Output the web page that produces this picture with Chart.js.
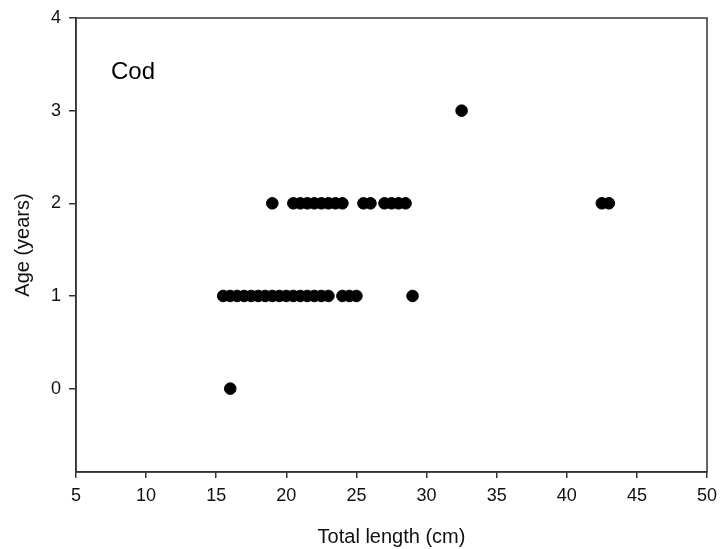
<!DOCTYPE html>
<html><head><meta charset="utf-8">
<script src="https://cdn.jsdelivr.net/npm/chart.js@4"></script>
<style>html,body{margin:0;padding:0;background:#fff}#wrap{width:721px;height:549px}</style>
</head><body><div id="wrap"><canvas id="c" width="721" height="549"></canvas></div>
<script>
const lengthAge0 = [16];
const lengthAge1 = [15.5,16,16.5,17,17.5,18,18.5,19,19.5,20,20.5,21,21.5,22,22.5,23,24,24.5,25,29];
const lengthAge2 = [19,20.5,21,21.5,22,22.5,23,23.5,24,25.5,26,27,27.5,28,28.5,42.5,43];
const lengthAge3 = [32.5];
const ages = [0,1,2,3];
const yTicks = [0,1,2,3,4];
const xTicks = [5,10,15,20,25,30,35,40,45,50];

const groups = [lengthAge0,lengthAge1,lengthAge2,lengthAge3];
const pts = [];
groups.forEach((arr,i)=>arr.forEach(x=>pts.push({x:x,y:ages[i]})));

const FONT = 'Liberation Sans, Arial, sans-serif';
const AX = '#333';

const frame = {
  id:'frame',
  afterDraw(chart){
    const {ctx, chartArea:a} = chart;
    ctx.save();
    ctx.strokeStyle = AX; ctx.lineWidth = 1.5;
    ctx.strokeRect(a.left, a.top, a.right-a.left, a.bottom-a.top);
    ctx.fillStyle = '#000';
    ctx.font = '24px ' + FONT;
    ctx.textBaseline = 'middle';
    ctx.fillText('Cod', a.left + 35, a.top + 54);
    ctx.restore();
  }
};

new Chart(document.getElementById('c'), {
  type:'scatter',
  data:{datasets:[{data:pts, backgroundColor:'#000', borderColor:'#000', borderWidth:1, pointRadius:5.8, pointHoverRadius:5.8}]},
  options:{
    responsive:false, animation:false,
    layout:{padding:{top:18,right:14,left:0,bottom:0}},
    plugins:{legend:{display:false}, tooltip:{enabled:false}},
    scales:{
      x:{type:'linear', min:5, max:50,
        afterBuildTicks(s){ s.ticks = xTicks.map(v=>({value:v})); },
        afterFit(s){ s.height = 77; s.paddingRight = 0; s.paddingLeft = 0; },
        grid:{drawOnChartArea:false, drawTicks:true, tickLength:6, color:AX, lineWidth:1.5},
        border:{color:AX, width:1.5},
        ticks:{color:'#111', font:{family:FONT, size:18}, padding:7, maxRotation:0},
        title:{display:true, text:'Total length (cm)', color:'#111', font:{family:FONT, size:20}, padding:{top:0,bottom:0}}
      },
      y:{type:'linear', min:-0.9, max:4,
        afterBuildTicks(s){ s.ticks = yTicks.map(v=>({value:v})); },
        afterFit(s){ s.width = 76; s.paddingTop = 0; s.paddingBottom = 0; },
        grid:{drawOnChartArea:false, drawTicks:true, tickLength:7, color:AX, lineWidth:1.5},
        border:{color:AX, width:1.5},
        ticks:{color:'#111', font:{family:FONT, size:18}, padding:8},
        title:{display:true, text:'Age (years)', color:'#111', font:{family:FONT, size:20}, padding:{top:11,bottom:0}}
      }
    }
  },
  plugins:[frame]
});
</script></body></html>
